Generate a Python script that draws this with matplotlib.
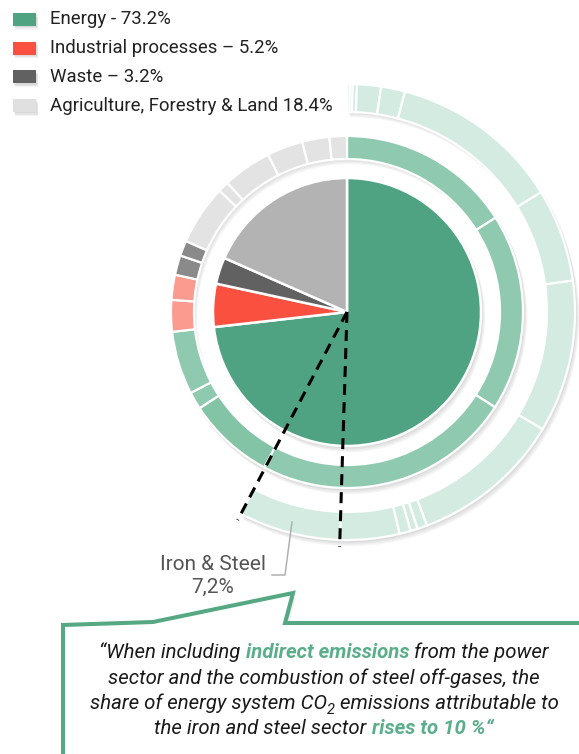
import matplotlib
matplotlib.use("Agg")
import matplotlib.pyplot as plt
from matplotlib.patches import Rectangle, Polygon
import numpy as np

W, H = 579, 754

# ========== data ==========
legend_labels = ["Energy - 73.2%", "Industrial processes \u2013 5.2%",
                 "Waste \u2013 3.2%", "Agriculture, Forestry & Land 18.4%"]
sector_share = [73.2, 5.2, 3.2, 18.4]
pie_colors = ["#50a382", "#f9503f", "#616161", "#b3b3b3"]
legend_colors = ["#50a382", "#f9503f", "#616161", "#e0e0e0"]

# middle ring: sub-categories of each sector (% of total)
energy_sub = [16.0, 18.1, 23.7, 8.0, 1.6, 5.8]
industry_sub = [2.9, 2.3]
waste_sub = [1.8, 1.4]
agri_sub = [5.5, 1.0, 4.5, 3.3, 2.5, 1.6]

# outer ring: energy breakdown, last one = Iron & Steel
outer_vals = [0.2, 0.2, 0.3, 1.7, 1.7, 12.1, 6.6, 10.8, 10.7, 0.7, 0.5, 0.8, 4.2, 7.2]
steel_label = "Iron & Steel\n7,2%"

# ========== layout (pixels) ==========
cx, cy = 347, H - 312
R_PIE, R_MID, R_OUT = 134, 176, 228
W_MID, W_OUT = 23, 28

plt.rcParams["font.family"] = ["Roboto", "DejaVu Sans"]
fig = plt.figure(figsize=(W / 100, H / 100), dpi=100)
ax = fig.add_axes([0, 0, 1, 1])


def ring(vals, colors, radius, width=None, lw=1.5):
    fr = np.array(vals) / 100.0
    # soft drop shadow
    for k in range(1, 5):
        wp = dict(alpha=0.035, linewidth=0)
        if width:
            wp["width"] = width + 1
        ax.pie(fr, radius=radius + 1, center=(cx + 0.8 * k, cy - 1.3 * k),
               startangle=90, counterclock=False, normalize=False,
               colors=["black"] * len(fr), wedgeprops=wp)
    wp = dict(edgecolor="white", linewidth=lw)
    if width:
        wp["width"] = width
    ax.pie(fr, radius=radius, center=(cx, cy), startangle=90,
           counterclock=False, normalize=False, colors=colors, wedgeprops=wp)


mid_vals = energy_sub + industry_sub + waste_sub + agri_sub
mid_colors = (["#8fcab0"] * len(energy_sub))
mid_colors[3] = "#83c3a6"
mid_colors += ["#fb9a8f"] * len(industry_sub) + ["#8a8a8a"] * len(waste_sub) \
    + ["#e3e3e3"] * len(agri_sub)

ring(outer_vals, ["#d3ebe1"] * len(outer_vals), R_OUT, W_OUT, lw=1.6)
ring(mid_vals, mid_colors, R_MID, W_MID, lw=1.6)
ring(sector_share, pie_colors, R_PIE, None, lw=1.8)

# dashed lines along the Iron & Steel slice
ang_end = 90 - 3.6 * sum(outer_vals)
ang_start = ang_end + 3.6 * outer_vals[-1]
for a in (ang_start, ang_end):
    t = np.deg2rad(a)
    ax.plot([cx, cx + 235 * np.cos(t)], [cy, cy + 235 * np.sin(t)],
            color="black", lw=2.2, dashes=(3.6, 2.3), zorder=10)

# label with leader line
ax.plot([292, 285, 272], [H - 522, H - 575, H - 575], color="#b0b0b0", lw=1.1, zorder=9)
ax.text(213, H - 576, steel_label, ha="center", va="center", fontsize=15,
        color="#555555", linespacing=1.2)

# ========== legend ==========
for i, (lab, col) in enumerate(zip(legend_labels, legend_colors)):
    yc = H - (19.5 + 28.7 * i)
    for k in range(1, 4):
        ax.add_patch(Rectangle((13 + 0.8 * k, yc - 6.5 - 1.2 * k), 23, 13,
                               color="black", alpha=0.05, lw=0))
    ax.add_patch(Rectangle((13, yc - 6.5), 23, 13, color=col, lw=0))
    ax.text(50, yc, lab, ha="left", va="center", fontsize=13.4, color="#222222")

# ========== callout box ==========
box = [(63, -10), (63, H - 625), (153, H - 622), (293, H - 593),
       (285, H - 623), (W + 20, H - 623), (W + 20, -10)]
for k in range(1, 4):
    ax.add_patch(Polygon([(x + 1.0 * k, y - 1.4 * k) for x, y in box],
                         closed=True, facecolor="black", alpha=0.05, lw=0, zorder=11))
ax.add_patch(Polygon(box, closed=True, facecolor="white", edgecolor="#55a882",
                     lw=2.9, joinstyle="miter", zorder=12))

renderer = fig.canvas.get_renderer()
it = dict(fontsize=14.7, fontstyle="italic", color="#1a1a1a")
gr = dict(fontsize=14.7, fontstyle="italic", fontweight="bold", color="#5aae8a")
sub = dict(fontsize=10.5, fontstyle="italic", color="#1a1a1a", dy=-4.5)


def width_of(s, kw):
    kw = {k: v for k, v in kw.items() if k != "dy"}
    t1 = ax.text(0, 0, "|" + s + "|", **kw)
    t2 = ax.text(0, 0, "||", **kw)
    w = t1.get_window_extent(renderer).width - t2.get_window_extent(renderer).width
    t1.remove()
    t2.remove()
    return w


def rich_line(parts, xc, y):
    ws = [width_of(s, kw) for s, kw in parts]
    x = xc - sum(ws) / 2
    for (s, kw), w in zip(parts, ws):
        kw = dict(kw)
        dy = kw.pop("dy", 0)
        ax.text(x, y + dy, s, ha="left", va="baseline", zorder=13, **kw)
        x += w


lines = [
    [("\u201cWhen including ", it), ("indirect emissions", gr), (" from the power", it)],
    [("sector and the combustion of steel off-gases, the", it)],
    [("share of energy system CO", it), ("2", sub), (" emissions attributable to", it)],
    [("the iron and steel sector ", it), ("rises to 10 %\u201c", gr)],
]
for i, parts in enumerate(lines):
    rich_line(parts, 324, H - (658 + 25.5 * i))

ax.set_xlim(0, W)
ax.set_ylim(0, H)
ax.set_aspect("auto")
ax.axis("off")
fig.savefig("out.png", dpi=100)
